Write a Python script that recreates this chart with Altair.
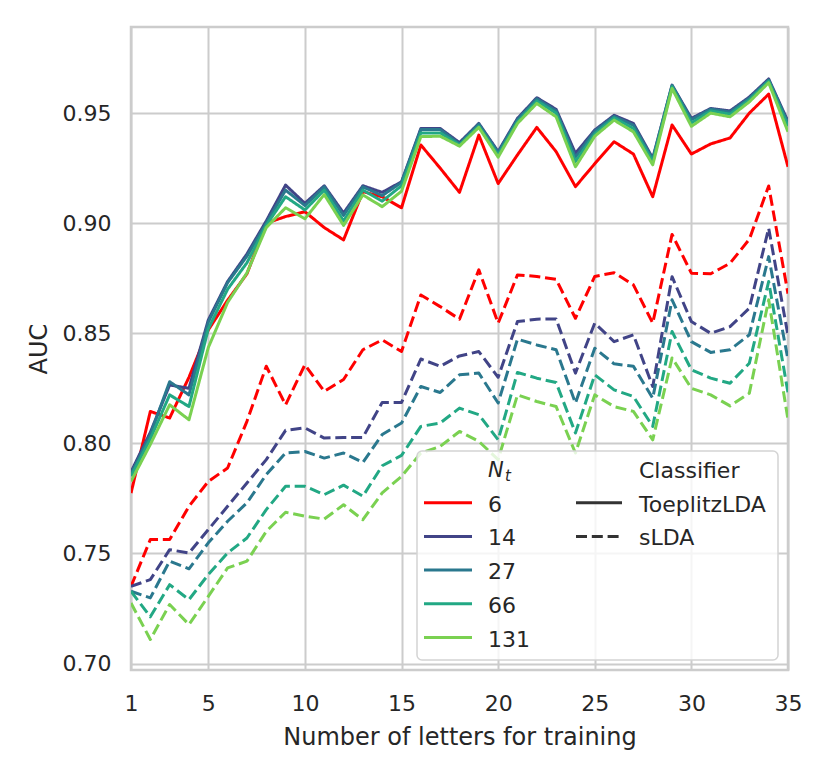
import altair as alt
import pandas as pd

# ---------------- data ----------------
x_letters = list(range(1, 36))
nt_levels = ["6", "14", "27", "66", "131"]
classifiers = ["ToeplitzLDA", "sLDA"]
nt_colors = ["#ff0000", "#414487", "#2a788e", "#22a884", "#7ad151"]

toeplitz_6 = [0.7774, 0.8145, 0.8115, 0.8300, 0.8515, 0.8650, 0.8770, 0.9000, 0.9030, 0.9052,
              0.8980, 0.8924, 0.9143, 0.9120, 0.9070, 0.9355, 0.9250, 0.9140, 0.9400, 0.9180,
              0.9310, 0.9435, 0.9325, 0.9166, 0.9270, 0.9370, 0.9314, 0.9120, 0.9446, 0.9314,
              0.9360, 0.9387, 0.9500, 0.9586, 0.9256]
toeplitz_14 = [0.7870, 0.8050, 0.8265, 0.8250, 0.8560, 0.8735, 0.8860, 0.9010, 0.9173, 0.9090,
               0.9170, 0.9046, 0.9170, 0.9140, 0.9188, 0.9430, 0.9430, 0.9366, 0.9453, 0.9325,
               0.9476, 0.9570, 0.9517, 0.9317, 0.9423, 0.9490, 0.9453, 0.9295, 0.9627, 0.9476,
               0.9521, 0.9510, 0.9573, 0.9655, 0.9462]
toeplitz_27 = [0.7860, 0.8040, 0.8280, 0.8220, 0.8550, 0.8730, 0.8850, 0.9000, 0.9150, 0.9080,
               0.9165, 0.9035, 0.9165, 0.9125, 0.9185, 0.9425, 0.9425, 0.9360, 0.9450, 0.9320,
               0.9470, 0.9565, 0.9510, 0.9300, 0.9418, 0.9485, 0.9445, 0.9290, 0.9625, 0.9470,
               0.9518, 0.9505, 0.9568, 0.9650, 0.9455]
toeplitz_66 = [0.7850, 0.8020, 0.8220, 0.8167, 0.8520, 0.8700, 0.8820, 0.8990, 0.9120, 0.9060,
               0.9150, 0.9010, 0.9150, 0.9100, 0.9170, 0.9410, 0.9410, 0.9355, 0.9440, 0.9310,
               0.9460, 0.9555, 0.9500, 0.9280, 0.9405, 0.9478, 0.9430, 0.9280, 0.9620, 0.9455,
               0.9510, 0.9495, 0.9560, 0.9645, 0.9440]
toeplitz_131 = [0.7827, 0.7995, 0.8175, 0.8107, 0.8435, 0.8640, 0.8774, 0.8980, 0.9070, 0.9020,
                0.9130, 0.8990, 0.9128, 0.9075, 0.9145, 0.9393, 0.9395, 0.9350, 0.9435, 0.9300,
                0.9453, 0.9544, 0.9483, 0.9256, 0.9395, 0.9468, 0.9415, 0.9265, 0.9612, 0.9440,
                0.9500, 0.9483, 0.9551, 0.9638, 0.9415]

slda_6 = [0.7350, 0.7563, 0.7563, 0.7714, 0.7827, 0.7888, 0.8100, 0.8350, 0.8175, 0.8357,
          0.8236, 0.8290, 0.8425, 0.8470, 0.8417, 0.8674, 0.8621, 0.8564, 0.8788, 0.8546,
          0.8765, 0.8758, 0.8745, 0.8568, 0.8758, 0.8775, 0.8720, 0.8546, 0.8949, 0.8773,
          0.8770, 0.8818, 0.8927, 0.9169, 0.8680]
slda_14 = [0.7350, 0.7381, 0.7517, 0.7502, 0.7608, 0.7714, 0.7820, 0.7926, 0.8059, 0.8070,
           0.8024, 0.8027, 0.8027, 0.8186, 0.8186, 0.8383, 0.8350, 0.8397, 0.8417, 0.8300,
           0.8553, 0.8564, 0.8565, 0.8319, 0.8546, 0.8462, 0.8493, 0.8258, 0.8757, 0.8553,
           0.8500, 0.8530, 0.8614, 0.8977, 0.8490]
slda_27 = [0.7328, 0.7298, 0.7465, 0.7430, 0.7548, 0.7646, 0.7730, 0.7858, 0.7956, 0.7963,
           0.7933, 0.7956, 0.7913, 0.8040, 0.8092, 0.8258, 0.8231, 0.8311, 0.8319, 0.8183,
           0.8473, 0.8447, 0.8425, 0.8183, 0.8432, 0.8361, 0.8350, 0.8205, 0.8652, 0.8462,
           0.8413, 0.8425, 0.8493, 0.8848, 0.8380]
slda_66 = [0.7328, 0.7212, 0.7358, 0.7290, 0.7404, 0.7502, 0.7570, 0.7699, 0.7805, 0.7805,
           0.7767, 0.7810, 0.7760, 0.7898, 0.7945, 0.8077, 0.8092, 0.8160, 0.8130, 0.8016,
           0.8322, 0.8296, 0.8276, 0.8047, 0.8311, 0.8243, 0.8213, 0.8077, 0.8508, 0.8334,
           0.8296, 0.8273, 0.8364, 0.8735, 0.8230]
slda_131 = [0.7275, 0.7109, 0.7268, 0.7177, 0.7305, 0.7434, 0.7465, 0.7600, 0.7687, 0.7669,
            0.7656, 0.7721, 0.7653, 0.7775, 0.7850, 0.7956, 0.7986, 0.8054, 0.8009, 0.7926,
            0.8220, 0.8190, 0.8167, 0.7956, 0.8220, 0.8167, 0.8145, 0.8016, 0.8388, 0.8250,
            0.8220, 0.8170, 0.8228, 0.8652, 0.8107]

x_ticks = [1, 5, 10, 15, 20, 25, 30, 35]
y_ticks = [0.70, 0.75, 0.80, 0.85, 0.90, 0.95]

toeplitz_all = [toeplitz_6, toeplitz_14, toeplitz_27, toeplitz_66, toeplitz_131]
slda_all = [slda_6, slda_14, slda_27, slda_66, slda_131]

rows = []
order = 0
for nt, tv, sv in zip(nt_levels, toeplitz_all, slda_all):
    for clf, vals in ((classifiers[0], tv), (classifiers[1], sv)):
        for xv, v in zip(x_letters, vals):
            rows.append({"x": xv, "auc": v, "Nt": nt, "clf": clf, "grp": order})
        order += 1
df = pd.DataFrame(rows)

# ---------------- layout constants ----------------
W, H = 657, 643
FONT = "DejaVu Sans"
TXT = "#262626"
GRID = "#cccccc"

lines = alt.Chart(df).mark_line(strokeWidth=3, clip=True, strokeJoin="round").encode(
    x=alt.X("x:Q",
            scale=alt.Scale(domain=[1, 35], nice=False, zero=False),
            axis=alt.Axis(values=x_ticks, title="Number of letters for training",
                          grid=True, ticks=False, tickSize=0, domain=False,
                          labelPadding=23, labelFlush=False, labelOverlap=False,
                          titleX=W / 2, titleY=74, titleBaseline="alphabetic",
                          titleAlign="center")),
    y=alt.Y("auc:Q",
            scale=alt.Scale(domain=[0.69705, 0.9891], nice=False, zero=False),
            axis=alt.Axis(values=y_ticks, format=".2f", title="AUC",
                          grid=True, ticks=False, tickSize=0, domain=False,
                          labelPadding=20, labelFlush=False, labelOverlap=False,
                          titleX=-85, titleY=H / 2, titleAngle=270,
                          titleBaseline="alphabetic", titleAlign="center")),
    color=alt.Color("Nt:N", scale=alt.Scale(domain=nt_levels, range=nt_colors), legend=None),
    strokeDash=alt.StrokeDash("clf:N",
                              scale=alt.Scale(domain=classifiers, range=[[1, 0], [11, 4.8]]),
                              legend=None),
    detail="grp:O",
    order="x:Q",
)

# ---------------- legend (drawn from the level lists) ----------------
one = pd.DataFrame({"k": [0]})
leg = []
leg.append(alt.Chart(one).mark_rect(fill="white", fillOpacity=0.8, stroke="#d4d4d4",
                                    strokeWidth=1.5, cornerRadius=5).encode(
    x=alt.value(286), x2=alt.value(647), y=alt.value(424), y2=alt.value(633)))

row0 = 475.7
dy = 33.7
# column 1 header N_t
leg.append(alt.Chart(one).mark_text(text="N", font=FONT, fontSize=21, fontStyle="italic",
                                    color=TXT, align="left", baseline="alphabetic").encode(
    x=alt.value(357), y=alt.value(449.7)))
leg.append(alt.Chart(one).mark_text(text="t", font=FONT, fontSize=15, fontStyle="italic",
                                    color=TXT, align="left", baseline="alphabetic").encode(
    x=alt.value(374), y=alt.value(453.5)))
for i, (nt, col) in enumerate(zip(nt_levels, nt_colors)):
    ry = row0 + i * dy
    leg.append(alt.Chart(one).mark_rule(color=col, strokeWidth=3).encode(
        x=alt.value(293), x2=alt.value(341), y=alt.value(ry)))
    leg.append(alt.Chart(one).mark_text(text=nt, font=FONT, fontSize=22, color=TXT,
                                        align="left", baseline="alphabetic").encode(
        x=alt.value(357), y=alt.value(ry + 9)))
# column 2 header Classifier
leg.append(alt.Chart(one).mark_text(text="Classifier", font=FONT, fontSize=22, color=TXT,
                                    align="left", baseline="alphabetic").encode(
    x=alt.value(508), y=alt.value(451)))
dashes = [[1, 0], [11, 4.8]]
for i, (clf, dsh) in enumerate(zip(classifiers, dashes)):
    ry = row0 + i * dy
    leg.append(alt.Chart(one).mark_rule(color="#333333", strokeWidth=3, strokeDash=dsh).encode(
        x=alt.value(445), x2=alt.value(491), y=alt.value(ry)))
    leg.append(alt.Chart(one).mark_text(text=clf, font=FONT, fontSize=22, color=TXT,
                                        align="left", baseline="alphabetic").encode(
        x=alt.value(508), y=alt.value(ry + 9)))

chart = alt.layer(lines, *leg).properties(
    width=W, height=H,
    padding={"left": 123, "top": 19, "right": 34, "bottom": 97},
    autosize=alt.AutoSizeParams(type="none"),
).configure(font=FONT).configure_view(
    stroke=GRID, strokeWidth=2.5
).configure_axis(
    gridColor=GRID, gridWidth=2, gridOpacity=1,
    labelFont=FONT, labelFontSize=22, labelColor=TXT,
    titleFont=FONT, titleFontSize=24, titleColor=TXT, titleFontWeight="normal",
)

chart.save("out.html", embed_options={"renderer": "svg", "actions": False})
